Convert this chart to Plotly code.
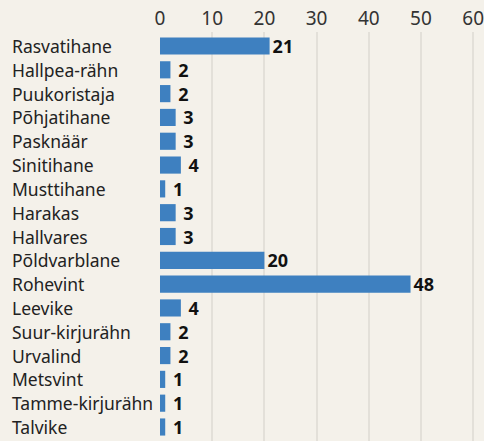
import plotly.graph_objects as go

categories = ["Rasvatihane", "Hallpea-rähn", "Puukoristaja", "Põhjatihane", "Pasknäär",
              "Sinitihane", "Musttihane", "Harakas", "Hallvares", "Põldvarblane",
              "Rohevint", "Leevike", "Suur-kirjurähn", "Urvalind", "Metsvint",
              "Tamme-kirjurähn", "Talvike"]
values = [21, 2, 2, 3, 3, 4, 1, 3, 3, 20, 48, 4, 2, 2, 1, 1, 1]
tick_vals = [0, 10, 20, 30, 40, 50, 60]

FONT = "Noto Sans"
BG = "#f4f1ea"

fig = go.Figure()
fig.add_trace(go.Bar(
    y=categories, x=values, orientation="h",
    marker=dict(color="#3e80c0", line=dict(width=0)),
    width=0.72,
    text=[("\u00a0" + str(v)) if v < 10 else str(v) for v in values],
    textposition="outside",
    constraintext="none",
    textfont=dict(family=FONT, size=18, color="#111111", weight="bold"),
    cliponaxis=False,
    hoverinfo="skip",
))

for c in categories:
    fig.add_annotation(x=0, xref="paper", xshift=-150, y=c, yref="y",
                       text=c, showarrow=False, xanchor="left",
                       font=dict(family=FONT, size=17.5, color="#222222"))

fig.update_layout(
    width=484, height=441,
    margin=dict(l=160, r=0, t=32, b=0),
    paper_bgcolor=BG, plot_bgcolor=BG,
    showlegend=False,
    font=dict(family=FONT, size=16, color="#222222"),
    xaxis=dict(side="top", range=[0, 61.5], tickvals=tick_vals,
               showgrid=True, gridcolor="#e3e0d9", gridwidth=2,
               zeroline=False, showline=False, ticks="",
               ticklabeloverflow="allow", ticklabelstandoff=2,
               tickfont=dict(family=FONT, size=19, color="#333333")),
    yaxis=dict(autorange="reversed", showticklabels=False, showgrid=False,
               zeroline=False, showline=False, ticks=""),
    bargap=0.28,
)

fig.write_html("out.html")
